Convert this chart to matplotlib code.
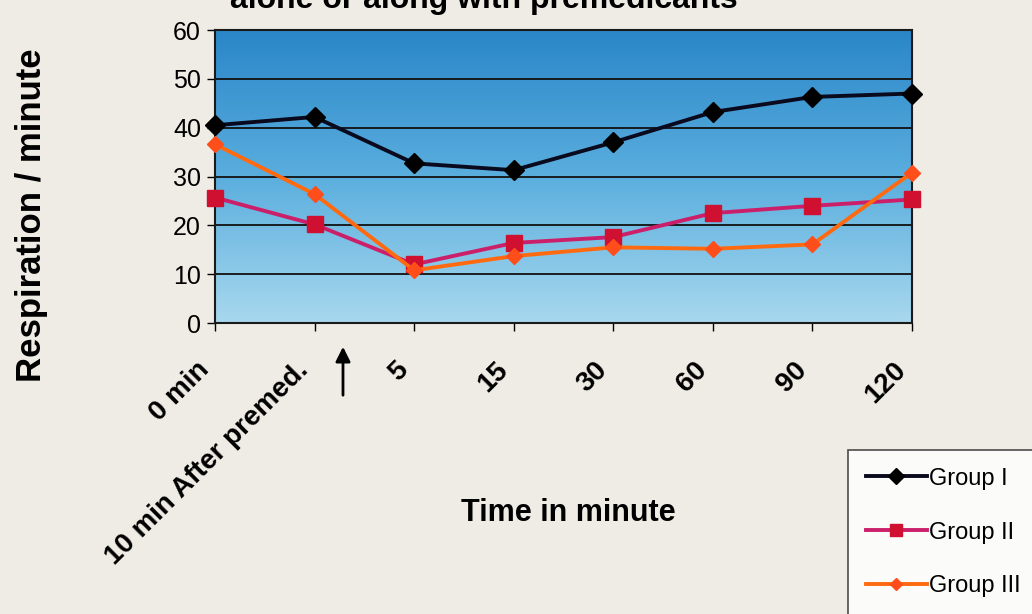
import matplotlib
matplotlib.use("Agg")
import matplotlib.pyplot as plt
import numpy as np
from matplotlib.colors import LinearSegmentedColormap
from matplotlib.transforms import ScaledTranslation

# respiration per minute at each time point
time_labels = ["0 min", "10 min After premed.", "5", "15", "30", "60", "90", "120"]
group_1 = [40.5, 42.2, 32.7, 31.3, 37.0, 43.2, 46.3, 47.0]
group_2 = [25.7, 20.2, 12.0, 16.4, 17.6, 22.5, 24.0, 25.3]
group_3 = [36.6, 26.4, 10.8, 13.7, 15.5, 15.2, 16.1, 30.8]

paper = "#efece5"
plt.rcParams["font.family"] = ["Liberation Sans", "DejaVu Sans"]

fig = plt.figure(figsize=(10.32, 6.14), dpi=100, facecolor=paper)
ax = fig.add_axes([0.2083, 0.4739, 0.6754, 0.4772])

x = np.arange(len(time_labels))
n = len(time_labels) - 1

# blue gradient plot area, dark at the top
grad = LinearSegmentedColormap.from_list("plotarea", ["#2a86c8", "#5aaede", "#a8d8ee"])
ax.imshow(np.linspace(0, 1, 256).reshape(-1, 1), cmap=grad, aspect="auto",
          extent=(0, n, 0, 60), zorder=0)
ax.set_xlim(0, n)
ax.set_ylim(0, 60)

ax.set_yticks(range(0, 61, 10))
ax.yaxis.grid(True, color="#111111", linewidth=1.3, zorder=1)

series = [
    ("Group I", group_1, "#0a0a1e", "D", "#000000", 10),
    ("Group II", group_2, "#cc1f6a", "s", "#d01030", 11),
    ("Group III", group_3, "#ff6a10", "D", "#ff4e1a", 8),
]
for name, vals, lc, mk, mc, ms in series:
    ax.plot(x, vals, color=lc, linewidth=2.8, marker=mk, markersize=ms,
            markerfacecolor=mc, markeredgecolor=mc, label=name, zorder=3, clip_on=False)

for side in ["top", "right", "bottom", "left"]:
    ax.spines[side].set_color("#1a1a1a")
    ax.spines[side].set_linewidth(1.5)

ax.set_xticks(x)
ax.set_xticklabels(time_labels, rotation=45, ha="right", va="center",
                   rotation_mode="anchor", fontsize=20, fontweight="bold")
ax.tick_params(axis="x", direction="out", length=6, width=1, pad=25)
ax.tick_params(axis="y", direction="out", length=6, width=1, pad=4, labelsize=18)
shift = ScaledTranslation(-0.1, 0, fig.dpi_scale_trans)
for lbl in ax.get_xticklabels():
    lbl.set_transform(lbl.get_transform() + shift)

fig.text(0.031, 0.65, "Respiration / minute", rotation=90, ha="center", va="center",
         fontsize=25, fontweight="bold")
fig.text(0.551, 0.164, "Time in minute", ha="center", va="center",
         fontsize=22, fontweight="bold")
fig.text(0.469, 0.987, "alone or along with premedicants", ha="center", va="baseline",
         fontsize=23, fontweight="bold")

# marker for the premedication point
fig.add_artist(matplotlib.patches.FancyArrowPatch(
    (343 / 1032, 1 - 398 / 614), (343 / 1032, 1 - 344 / 614),
    transform=fig.transFigure, arrowstyle="-|>", mutation_scale=22,
    color="black", linewidth=2))

leg = fig.legend(loc="upper left", bbox_to_anchor=(848 / 1032, 1 - 450 / 614),
                 borderaxespad=0, fontsize=17, frameon=True, fancybox=False,
                 handlelength=2.6, labelspacing=1.35, borderpad=0.75,
                 handletextpad=0.1, markerscale=0.8)
leg.get_frame().set_edgecolor("#222222")
leg.get_frame().set_linewidth(1.2)
leg.get_frame().set_facecolor("white")

fig.savefig("out.png", dpi=100, facecolor=paper)
